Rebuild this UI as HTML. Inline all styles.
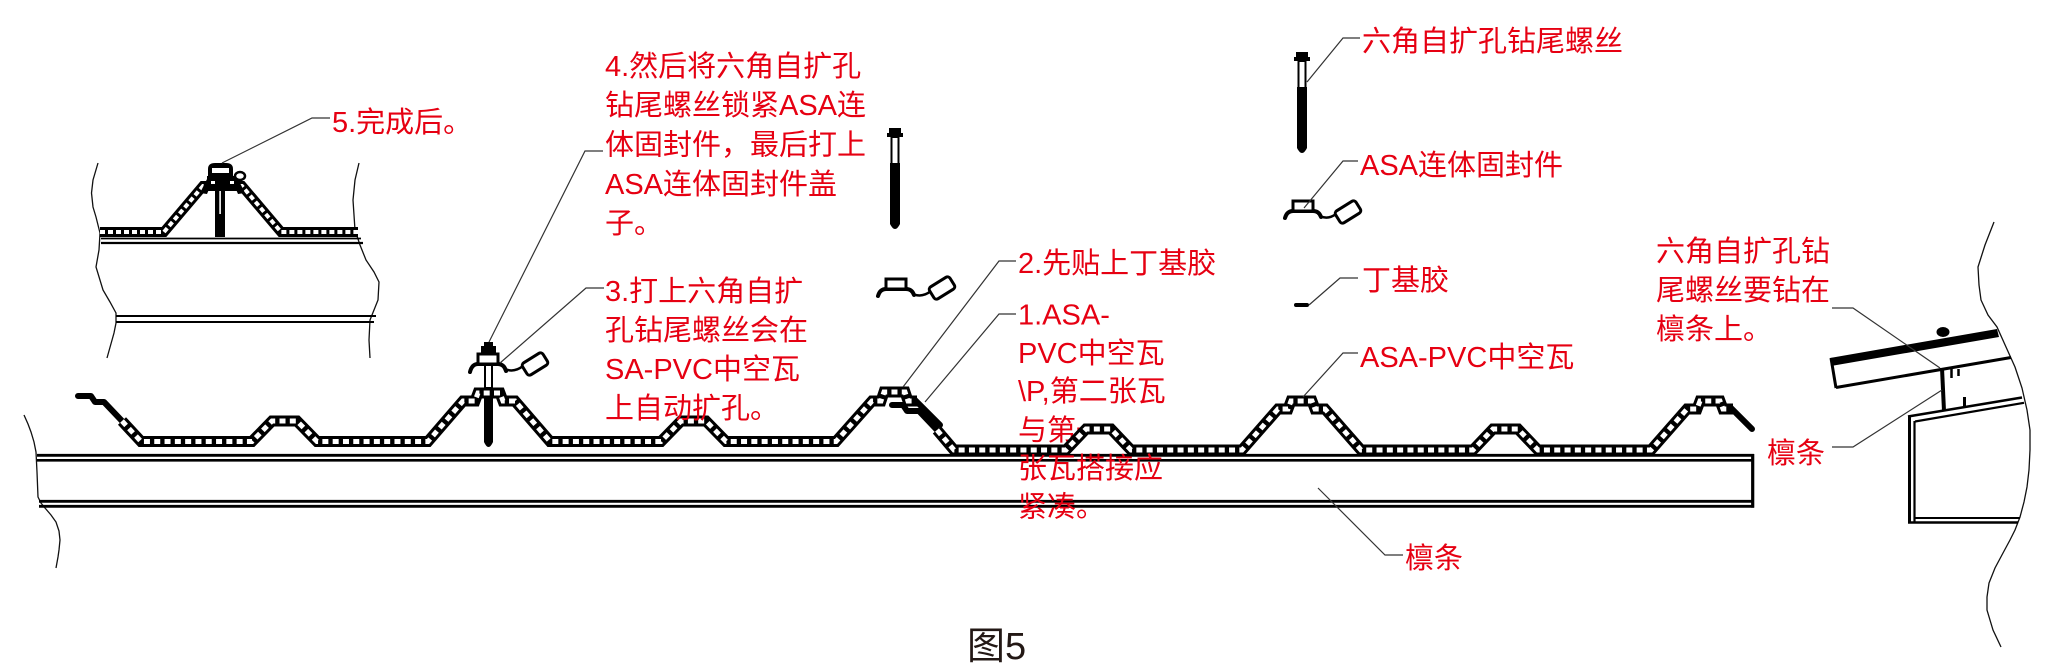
<!DOCTYPE html>
<html>
<head>
<meta charset="utf-8">
<style>
html,body{margin:0;padding:0;background:#fff;}
body{width:2057px;height:670px;overflow:hidden;}
svg{display:block;}
.t{font-family:"Liberation Sans","Noto Sans CJK SC",sans-serif;font-size:29px;fill:#e60012;}
.ld{fill:none;stroke:#333;stroke-width:1.2;}
.wv{fill:none;stroke:#111;stroke-width:1.3;}
</style>
</head>
<body>
<svg width="2057" height="670" viewBox="0 0 2057 670" xmlns="http://www.w3.org/2000/svg">
<rect width="2057" height="670" fill="#fff"/>

<!-- text under sheet -->
<text class="t" x="1018" y="440">与第一</text>

<!-- ============ LEFT INSET ============ -->
<polyline class="wv" points="98,163 93,180 91.5,193 93,207 96,217 100,233 99,250 96,267 103,290 110,302 116,313 116,323 114,333 107,358"/>
<polyline class="wv" points="359,163 355,180 353,200 354,215 355,230 360,245 366,260 374,272 379,282 378,300 370,320 369,340 370,358"/>
<!-- double lines -->
<line x1="101" y1="238.5" x2="361" y2="238.5" stroke="#000" stroke-width="1.8"/>
<line x1="101" y1="243" x2="363" y2="243" stroke="#000" stroke-width="2.3"/>
<line x1="116" y1="316" x2="376" y2="316" stroke="#000" stroke-width="2"/>
<line x1="116" y1="322" x2="374" y2="322" stroke="#000" stroke-width="2"/>
<!-- screw shaft -->
<rect x="215" y="186" width="10" height="51" fill="#000"/>
<rect x="219.3" y="190" width="1.6" height="24" fill="#fff"/>
<!-- band -->
<path d="M100,232 L164,232 L203,186 L242,186 L281,232 L358,232" fill="none" stroke="#000" stroke-width="10" stroke-miterlimit="4"/>
<path d="M100,232 L164,232 L203,186 L242,186 L281,232 L358,232" fill="none" stroke="#fff" stroke-width="4" stroke-dasharray="5 3"/>
<!-- washer wings -->
<path d="M200,193 L206,181 Q208,176 214,176 L231,176 Q237,176 239,181 L245,193 L238,194 L235,187 L210,187 L207,194 Z" fill="#000"/>
<rect x="207" y="176" width="31" height="12" fill="#000"/>
<rect x="211" y="181" width="4" height="3" fill="#fff"/>
<rect x="230" y="181" width="4" height="3" fill="#fff"/>
<!-- cap -->
<path d="M208,177 L208,169 Q208,163 215,163 L226,163 Q233,163 233,169 L233,177 Z" fill="#000"/>
<rect x="212" y="168" width="17" height="5" fill="#fff"/>
<ellipse cx="240" cy="176" rx="5" ry="4" fill="#fff" stroke="#000" stroke-width="2.5"/>
<polyline class="ld" points="222,163 312,118 330,118"/>

<!-- ============ MAIN PURLIN ============ -->
<polyline class="wv" points="24,415 28,424 31,432 34,442 36,452 37,472 38,497 41,503 45,508 51,515 56,522 59,531 60,540 59,550 58,557 56,568"/>
<line x1="37" y1="455.3" x2="1754" y2="455.3" stroke="#000" stroke-width="2.8"/>
<line x1="37" y1="460.3" x2="1752" y2="460.3" stroke="#000" stroke-width="2.6"/>
<line x1="39" y1="501.3" x2="1752" y2="501.3" stroke="#000" stroke-width="2.8"/>
<line x1="39" y1="506.3" x2="1754" y2="506.3" stroke="#000" stroke-width="2.8"/>
<line x1="1752.7" y1="454" x2="1752.7" y2="507.7" stroke="#000" stroke-width="3.2"/>

<!-- ============ MAIN SCREW (under sheet) ============ -->
<path d="M484,386 L493,386 L493,442 Q488.5,452 484,442 Z" fill="#000"/>
<rect x="485" y="364" width="7" height="24" fill="#fff" stroke="#000" stroke-width="2"/>

<!-- ============ SHEET 1 ============ -->
<path d="M78,396 L91,396 L95,402 L104,402 L123,422" fill="none" stroke="#000" stroke-width="6" stroke-linecap="round" stroke-linejoin="round"/>
<path id="s1" d="M122,421 L141,441.5 L252,441.5 L272,421 L297,421 L317,441.5 L428,441.5 L463,401 L475,401 L478,393 L500,393 L503,401 L515,401 L550,441.5 L661,441.5 L681,421 L706,421 L726,441.5 L836,441.5 L872,401 L881,401 L884,392 L905,392 L908,401 L917,401" fill="none" stroke="#000" stroke-width="11" stroke-miterlimit="3"/>
<path d="M122,421 L141,441.5 L252,441.5 L272,421 L297,421 L317,441.5 L428,441.5 L463,401 L475,401 L478,393 L500,393 L503,401 L515,401 L550,441.5 L661,441.5 L681,421 L706,421 L726,441.5 L836,441.5 L872,401 L881,401 L884,392 L905,392 L908,401 L917,401" fill="none" stroke="#fff" stroke-width="5" stroke-dasharray="6 4.3"/>

<!-- ============ SHEET 2 ============ -->
<path d="M892,405 L903,405 L907,411 L919,411 L938,431" fill="none" stroke="#000" stroke-width="6" stroke-linecap="round" stroke-linejoin="round"/>
<path d="M937,430 L954,450 L1066,450 L1086,429 L1111,429 L1131,450 L1242,450 L1278,409 L1288,409 L1291,401 L1312,401 L1315,409 L1325,409 L1361,450 L1473,450 L1493,429 L1518,429 L1538,450 L1651,450 L1687,409 L1697,409 L1700,401 L1720,401 L1723,409 L1733,409" fill="none" stroke="#000" stroke-width="11" stroke-miterlimit="3"/>
<path d="M937,430 L954,450 L1066,450 L1086,429 L1111,429 L1131,450 L1242,450 L1278,409 L1288,409 L1291,401 L1312,401 L1315,409 L1325,409 L1361,450 L1473,450 L1493,429 L1518,429 L1538,450 L1651,450 L1687,409 L1697,409 L1700,401 L1720,401 L1723,409 L1733,409" fill="none" stroke="#fff" stroke-width="5" stroke-dasharray="6 4.3"/>
<path d="M1731,408 L1752,429" fill="none" stroke="#000" stroke-width="6" stroke-linecap="round"/>
<!-- sheet 1 end over sheet 2 -->
<path d="M915,400 L940,425" fill="none" stroke="#000" stroke-width="6" stroke-linecap="round"/>

<!-- main screw head + washer -->
<rect x="484" y="342" width="9" height="5" fill="#000"/>
<rect x="481" y="346" width="15" height="7" fill="#000"/>
<g transform="translate(488,366)">
 <path d="M-18,6 Q-16,-2 -10,-2 L10,-2 Q16,-2 18,5" fill="none" stroke="#000" stroke-width="4" stroke-linecap="round"/>
 <rect x="-10" y="-12" width="20" height="10" fill="#fff" stroke="#000" stroke-width="3"/>
 <path d="M17,3 Q26,7 35,0" fill="none" stroke="#000" stroke-width="2.5"/>
 <rect x="-12" y="-7" width="24" height="14" rx="3" transform="translate(47,-2) rotate(-32)" fill="#fff" stroke="#000" stroke-width="3"/>
</g>

<!-- ============ FREE SCREW MIDDLE ============ -->
<g transform="translate(895,0)">
 <rect x="-6" y="128" width="12" height="5" fill="#000"/>
 <rect x="-8" y="133" width="16" height="4" fill="#000"/>
 <rect x="-3.5" y="137" width="7" height="27" fill="#fff" stroke="#000" stroke-width="2"/>
 <path d="M-5,163 L5,163 L5,224 Q0,234 -5,224 Z" fill="#000"/>
</g>
<g transform="translate(896,291)">
 <path d="M-18,5 Q-16,-2 -10,-2 L10,-2 Q16,-2 18,4" fill="none" stroke="#000" stroke-width="4" stroke-linecap="round"/>
 <rect x="-10" y="-12" width="20" height="10" fill="#fff" stroke="#000" stroke-width="3"/>
 <path d="M17,3 Q26,7 35,0" fill="none" stroke="#000" stroke-width="2.5"/>
 <rect x="-12" y="-7" width="24" height="14" rx="3" transform="translate(46,-3) rotate(-32)" fill="#fff" stroke="#000" stroke-width="3"/>
</g>

<!-- ============ FREE SCREW RIGHT ============ -->
<g transform="translate(1302,-76)">
 <rect x="-6" y="128" width="12" height="5" fill="#000"/>
 <rect x="-8" y="133" width="16" height="4" fill="#000"/>
 <rect x="-3.5" y="137" width="7" height="27" fill="#fff" stroke="#000" stroke-width="2"/>
 <path d="M-5,163 L5,163 L5,224 Q0,234 -5,224 Z" fill="#000"/>
</g>
<g transform="translate(1303,213)">
 <path d="M-18,5 Q-16,-2 -10,-2 L10,-2 Q16,-2 18,4" fill="none" stroke="#000" stroke-width="4" stroke-linecap="round"/>
 <rect x="-10" y="-12" width="20" height="10" fill="#fff" stroke="#000" stroke-width="3"/>
 <path d="M17,3 Q25,7 33,1" fill="none" stroke="#000" stroke-width="2.5"/>
 <rect x="-12" y="-7" width="24" height="14" rx="3" transform="translate(45,-1) rotate(-32)" fill="#fff" stroke="#000" stroke-width="3"/>
</g>
<!-- butyl -->
<rect x="1294" y="303" width="15" height="4" rx="2" fill="#000"/>

<!-- ============ RIGHT DETAIL ============ -->
<polyline class="wv" points="1994,222 1985,245 1978,267 1979,285 1981,300 1988,315 1997,327 2006,347 2015,367 2022,388 2027,410 2030,430 2030,450 2029,470 2027,487 2024,502 2020,517 2015,530 2010,540 2003,553 1995,568 1989,583 1987,597 1987,610 1993,630 2001,647"/>
<polygon points="1830,358 1997,329 1999,337 1831,366" fill="#000"/>
<line x1="1836" y1="387.5" x2="2011" y2="357.5" stroke="#000" stroke-width="3"/>
<line x1="1831" y1="358" x2="1836" y2="388" stroke="#000" stroke-width="3"/>
<ellipse cx="1943" cy="332" rx="6.5" ry="5" fill="#000"/>
<line x1="1942" y1="368" x2="1944" y2="411" stroke="#000" stroke-width="4"/>
<line x1="1951.5" y1="369" x2="1951.5" y2="378" stroke="#000" stroke-width="2.5"/>
<line x1="1958.5" y1="369" x2="1958.5" y2="376" stroke="#000" stroke-width="2.5"/>
<line x1="1964.5" y1="397" x2="1964.5" y2="406" stroke="#000" stroke-width="3"/>
<line x1="1908" y1="416.5" x2="2022" y2="397.5" stroke="#000" stroke-width="2.6"/>
<line x1="1915" y1="421.5" x2="2024" y2="402.8" stroke="#000" stroke-width="2.2"/>
<line x1="1909.5" y1="416" x2="1909.5" y2="523.5" stroke="#000" stroke-width="3"/>
<line x1="1914.5" y1="421" x2="1914.5" y2="523.5" stroke="#000" stroke-width="2.2"/>
<line x1="1914" y1="518" x2="2020" y2="518" stroke="#000" stroke-width="2"/>
<line x1="1908" y1="522.5" x2="2018" y2="522.5" stroke="#000" stroke-width="2.4"/>

<!-- ============ LEADERS ============ -->
<polyline class="ld" points="489,342 585,151 603,151"/>
<polyline class="ld" points="500,363 586,288 604,288"/>
<polyline class="ld" points="903,387 999,261 1016,261"/>
<polyline class="ld" points="925,402 999,314 1016,314"/>
<polyline class="ld" points="1307,82 1343,38 1360,38"/>
<polyline class="ld" points="1304,208 1343,161 1358,161"/>
<polyline class="ld" points="1309,305 1340,278 1358,278"/>
<polyline class="ld" points="1303,397 1343,353 1358,353"/>
<polyline class="ld" points="1318,488 1385,555 1403,555"/>
<polyline class="ld" points="1832,308 1853,308 1940,368"/>
<polyline class="ld" points="1832,447 1853,447 1942,390"/>

<!-- ============ TEXT ============ -->
<text class="t" x="332" y="132">5.完成后。</text>

<text class="t" x="605" y="76">4.然后将六角自扩孔</text>
<text class="t" x="605" y="115">钻尾螺丝锁紧ASA连</text>
<text class="t" x="605" y="154.5">体固封件，最后打上</text>
<text class="t" x="605" y="194">ASA连体固封件盖</text>
<text class="t" x="605" y="233">子。</text>

<text class="t" x="605" y="301">3.打上六角自扩</text>
<text class="t" x="605" y="340">孔钻尾螺丝会在</text>
<text class="t" x="605" y="379">SA-PVC中空瓦</text>
<text class="t" x="605" y="418">上自动扩孔。</text>

<text class="t" x="1018" y="273">2.先贴上丁基胶</text>

<text class="t" x="1018" y="324.5">1.ASA-</text>
<text class="t" x="1018" y="363">PVC中空瓦</text>
<text class="t" x="1018" y="401">\P,第二张瓦</text>
<text class="t" x="1018" y="478">张瓦搭接应</text>
<text class="t" x="1018" y="516.5">紧凑。</text>

<text class="t" x="1362" y="51">六角自扩孔钻尾螺丝</text>
<text class="t" x="1360" y="175">ASA连体固封件</text>
<text class="t" x="1362" y="290">丁基胶</text>
<text class="t" x="1360" y="367">ASA-PVC中空瓦</text>

<text class="t" x="1656" y="261">六角自扩孔钻</text>
<text class="t" x="1656" y="300">尾螺丝要钻在</text>
<text class="t" x="1656" y="339">檩条上。</text>

<text class="t" x="1767" y="463">檩条</text>
<text class="t" x="1405" y="568">檩条</text>

<text x="967" y="659" style="font-family:'Liberation Sans','Noto Sans CJK SC',sans-serif;font-size:38px;fill:#231815;">图5</text>
</svg>
</body>
</html>
